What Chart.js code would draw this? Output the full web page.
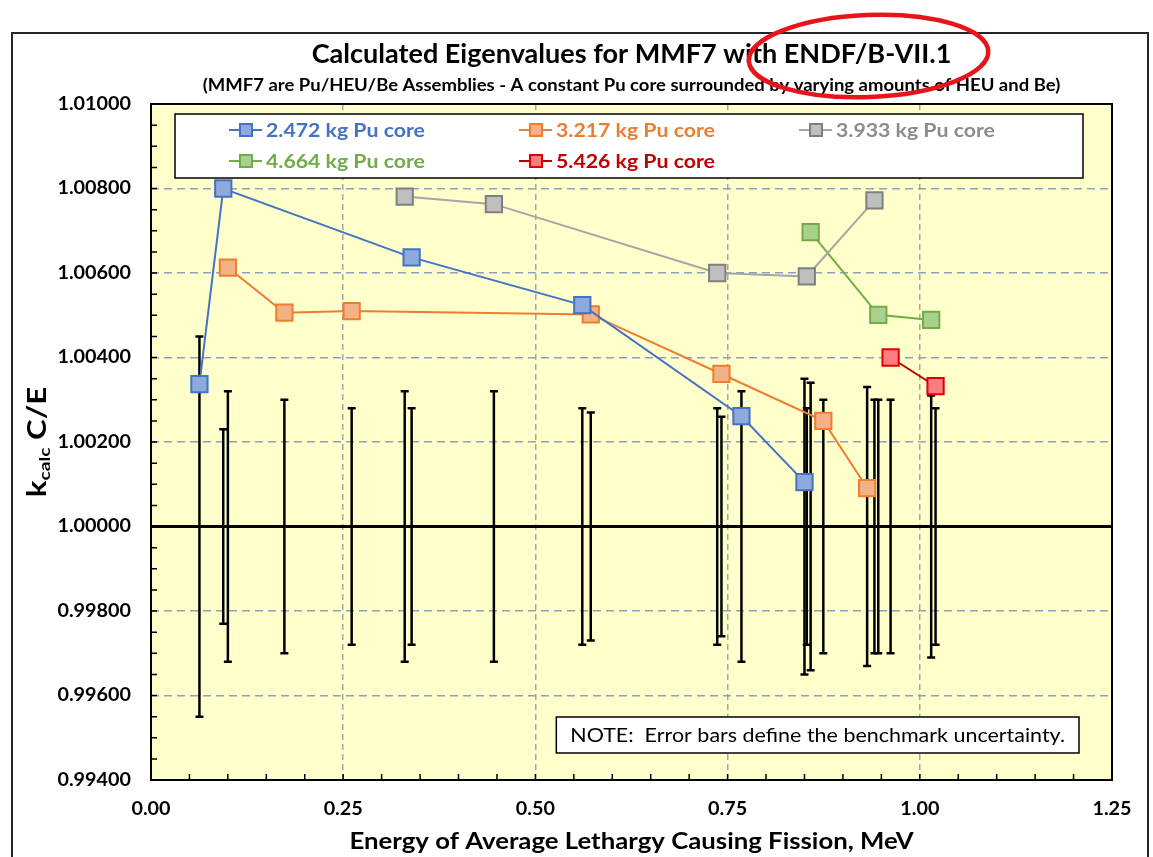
<!DOCTYPE html>
<html>
<head>
<meta charset="utf-8">
<script src="https://cdn.jsdelivr.net/npm/chart.js@4.4.0/dist/chart.umd.min.js"></script>
<style>
  html, body { margin: 0; padding: 0; background: #fff; }
</style>
</head>
<body>
<canvas id="eigenChart" width="1153" height="857"></canvas>
<script>
  /* =========================
     DATA
  ========================= */
  const TITLE = "Calculated Eigenvalues for MMF7 with ENDF/B-VII.1";
  const TITLE_MARK = "ENDF/B-VII.1";
  const SUBTITLE = "(MMF7 are Pu/HEU/Be Assemblies - A constant Pu core surrounded by varying amounts of HEU and Be)";
  const X_TITLE = "Energy of Average Lethargy Causing Fission, MeV";
  const NOTE = "NOTE:  Error bars define the benchmark uncertainty.";

  const seriesLabels = ["2.472 kg Pu core", "3.217 kg Pu core", "3.933 kg Pu core", "4.664 kg Pu core", "5.426 kg Pu core"];

  const energy1 = [0.063, 0.094, 0.339, 0.561, 0.768, 0.850];
  const keff1 = [1.00337, 1.00800, 1.00637, 1.00524, 1.00261, 1.00105];
  const unc1 = [0.0045, 0.0023, 0.0028, 0.0028, 0.0032, 0.0035];

  const energy2 = [0.100, 0.1735, 0.261, 0.572, 0.742, 0.8745, 0.9315];
  const keff2 = [1.00613, 1.00506, 1.00510, 1.00502, 1.00361, 1.00250, 1.00091];
  const unc2 = [0.0032, 0.0030, 0.0028, 0.0027, 0.0026, 0.0030, 0.0033];

  const energy3 = [0.330, 0.446, 0.7365, 0.853, 0.941];
  const keff3 = [1.00781, 1.00763, 1.00600, 1.00592, 1.00772];
  const unc3 = [0.0032, 0.0032, 0.0028, 0.0028, 0.0030];

  const energy4 = [0.858, 0.946, 1.0148];
  const keff4 = [1.00697, 1.00501, 1.00489];
  const unc4 = [0.0034, 0.0030, 0.0031];

  const energy5 = [0.962, 1.0205];
  const keff5 = [1.00400, 1.00332];
  const unc5 = [0.0030, 0.0028];

  const BENCHMARK = 1.0;
  const Y_MIN = 0.994, Y_MAX = 1.010, Y_STEP = 0.002, Y_MINOR = 0.0005;
  const X_MIN = 0, X_MAX = 1.25, X_STEP = 0.25, X_MINOR = 0.05;

  /* =========================
     STYLE
  ========================= */
  const FONT = "Lato, 'Open Sans', sans-serif";
  const STYLES = [
    { line: "#4472C4", fill: "#8EA9DB", edge: "#4472C4", text: "#4472C4" },
    { line: "#ED7D31", fill: "#F4B183", edge: "#ED7D31", text: "#ED7D31" },
    { line: "#A5A5A5", fill: "#BFBFBF", edge: "#7F7F7F", text: "#8C8C8C" },
    { line: "#70AD47", fill: "#A9D18E", edge: "#70AD47", text: "#70AD47" },
    { line: "#C00000", fill: "#FF7C80", edge: "#E00000", text: "#C00000" }
  ];

  const series = [
    [energy1, keff1, unc1],
    [energy2, keff2, unc2],
    [energy3, keff3, unc3],
    [energy4, keff4, unc4],
    [energy5, keff5, unc5]
  ];

  const datasets = series.map(([xs, ys, us], i) => ({
    label: seriesLabels[i],
    data: xs.map((x, j) => ({ x, y: ys[j] })),
    unc: us,
    showLine: true,
    borderColor: STYLES[i].line,
    borderWidth: 2,
    pointStyle: "rect",
    pointRadius: 11.5,
    pointHoverRadius: 11.5,
    pointBackgroundColor: STYLES[i].fill,
    pointBorderColor: STYLES[i].edge,
    pointBorderWidth: 2
  }));

  /* =========================
     HELPERS
  ========================= */
  // text drawn slightly wide, like the stretched original
  function wideText(ctx, text, x, y, font, sx, align = "center") {
    ctx.save();
    ctx.font = font;
    ctx.textAlign = align;
    ctx.textBaseline = "middle";
    ctx.translate(x, y);
    ctx.scale(sx, 1);
    ctx.fillText(text, 0, 0);
    ctx.restore();
  }

  function textWidth(ctx, text, font, sx) {
    ctx.save();
    ctx.font = font;
    const w = ctx.measureText(text).width * sx;
    ctx.restore();
    return w;
  }

  /* =========================
     PLUGINS
  ========================= */
  const decorations = {
    id: "decorations",
    beforeDraw(chart) {
      const { ctx, chartArea: ca } = chart;
      ctx.save();
      ctx.fillStyle = "#FFFFCC";
      ctx.fillRect(ca.left, ca.top, ca.right - ca.left, ca.bottom - ca.top);
      ctx.restore();
    },
    beforeDatasetsDraw(chart) {
      const { ctx, chartArea: ca, scales: { x, y } } = chart;
      ctx.save();
      // benchmark line
      const yb = y.getPixelForValue(BENCHMARK);
      ctx.strokeStyle = "#000";
      ctx.lineWidth = 3;
      ctx.beginPath();
      ctx.moveTo(ca.left, yb);
      ctx.lineTo(ca.right, yb);
      ctx.stroke();

      // error bars: benchmark uncertainty
      ctx.lineWidth = 2.5;
      chart.data.datasets.forEach(ds => {
        ds.unc.forEach((u, i) => {
          const px = x.getPixelForValue(ds.data[i].x);
          const top = y.getPixelForValue(BENCHMARK + u);
          const bot = y.getPixelForValue(BENCHMARK - u);
          ctx.beginPath();
          ctx.moveTo(px, top);
          ctx.lineTo(px, bot);
          ctx.moveTo(px - 4, top);
          ctx.lineTo(px + 4, top);
          ctx.moveTo(px - 4, bot);
          ctx.lineTo(px + 4, bot);
          ctx.stroke();
        });
      });
      ctx.restore();
    },
    afterDraw(chart) {
      const { ctx, chartArea: ca, scales: { x, y } } = chart;
      const cx = (ca.left + ca.right) / 2;
      ctx.save();

      // outer frame
      ctx.strokeStyle = "#262626";
      ctx.lineWidth = 2;
      ctx.strokeRect(12, 33, 1136, 860);

      // plot frame
      ctx.strokeStyle = "#000";
      ctx.lineWidth = 2;
      ctx.strokeRect(ca.left, ca.top, ca.right - ca.left, ca.bottom - ca.top);

      // inner ticks
      ctx.lineWidth = 1.5;
      ctx.beginPath();
      const ny = Math.round((Y_MAX - Y_MIN) / Y_MINOR);
      for (let i = 1; i < ny; i++) {
        const py = y.getPixelForValue(Y_MIN + i * Y_MINOR);
        ctx.moveTo(ca.left, py);
        ctx.lineTo(ca.left + 6, py);
      }
      const nx = Math.round((X_MAX - X_MIN) / X_MINOR);
      for (let i = 1; i < nx; i++) {
        const px = x.getPixelForValue(X_MIN + i * X_MINOR);
        ctx.moveTo(px, ca.bottom);
        ctx.lineTo(px, ca.bottom - 6);
      }
      ctx.stroke();

      // tick labels from the scales
      ctx.fillStyle = "#000";
      const tickFont = `bold 18.5px ${FONT}`;
      y.ticks.forEach(t => {
        wideText(ctx, t.value.toFixed(5), ca.left - 20, y.getPixelForValue(t.value), tickFont, 1.07, "right");
      });
      x.ticks.forEach(t => {
        wideText(ctx, t.value.toFixed(2), x.getPixelForValue(t.value), ca.bottom + 29, tickFont, 1.07);
      });

      // titles
      const titleFont = `bold 26px ${FONT}`, titleSx = 1.04;
      wideText(ctx, TITLE, cx, 55, titleFont, titleSx);
      const fullW = textWidth(ctx, TITLE, titleFont, titleSx);
      const preW = textWidth(ctx, TITLE.slice(0, TITLE.indexOf(TITLE_MARK)), titleFont, titleSx);
      const markW = textWidth(ctx, TITLE_MARK, titleFont, titleSx);
      wideText(ctx, SUBTITLE, cx, 86, `bold 16.5px ${FONT}`, 1.12);
      wideText(ctx, X_TITLE, cx, 842, `bold 23px ${FONT}`, 1.12);

      // y title with subscript
      ctx.save();
      ctx.translate(38, (ca.top + ca.bottom) / 2);
      ctx.rotate(-Math.PI / 2);
      ctx.scale(1.2, 1);
      ctx.textAlign = "left";
      ctx.textBaseline = "alphabetic";
      const big = `bold 26px ${FONT}`, small = `bold 16px ${FONT}`;
      ctx.font = big; const wk = ctx.measureText("k").width;
      ctx.font = small; const wc = ctx.measureText("calc").width;
      ctx.font = big; const we = ctx.measureText(" C/E").width;
      let tx = -(wk + wc + we) / 2;
      ctx.font = big; ctx.fillText("k", tx, 8); tx += wk;
      ctx.font = small; ctx.fillText("calc", tx, 12); tx += wc;
      ctx.font = big; ctx.fillText(" C/E", tx, 8);
      ctx.restore();

      // legend
      const box = { x: ca.left + 24, y: ca.top + 10, w: ca.right - ca.left - 53, h: 64 };
      ctx.fillStyle = "#fff";
      ctx.fillRect(box.x, box.y, box.w, box.h);
      ctx.strokeStyle = "#000";
      ctx.lineWidth = 1.5;
      ctx.strokeRect(box.x, box.y, box.w, box.h);
      const colX = [box.x + 54, box.x + 344, box.x + 624];
      const rowY = [box.y + 16, box.y + 47];
      chart.data.datasets.forEach((ds, i) => {
        const lx = colX[i % 3], ly = rowY[Math.floor(i / 3)];
        const st = STYLES[i];
        ctx.strokeStyle = st.line;
        ctx.lineWidth = 2;
        ctx.beginPath();
        ctx.moveTo(lx, ly);
        ctx.lineTo(lx + 33, ly);
        ctx.stroke();
        ctx.fillStyle = st.fill;
        ctx.strokeStyle = st.edge;
        ctx.fillRect(lx + 11, ly - 6, 12, 12);
        ctx.strokeRect(lx + 11, ly - 6, 12, 12);
        ctx.fillStyle = st.text;
        wideText(ctx, ds.label, lx + 37, ly + 1, `bold 18.5px ${FONT}`, 1.15, "left");
      });

      // note box
      const noteFont = `18.5px ${FONT}`, noteSx = 1.16;
      const nw = textWidth(ctx, NOTE, noteFont, noteSx) + 28;
      const nb = { x: ca.right - 33 - nw, y: ca.bottom - 63, w: nw, h: 36 };
      ctx.fillStyle = "#fff";
      ctx.fillRect(nb.x, nb.y, nb.w, nb.h);
      ctx.strokeStyle = "#000";
      ctx.lineWidth = 1.5;
      ctx.strokeRect(nb.x, nb.y, nb.w, nb.h);
      ctx.fillStyle = "#000";
      wideText(ctx, NOTE, nb.x + 14, nb.y + nb.h / 2 + 1, noteFont, noteSx, "left");

      // red highlight around the evaluation name
      const mx = cx - fullW / 2 + preW + markW / 2 + 1;
      ctx.strokeStyle = "#E8141B";
      ctx.lineWidth = 4.5;
      ctx.beginPath();
      ctx.ellipse(mx, 56, markW / 2 + 36, 41, -0.04, 0, Math.PI * 2);
      ctx.stroke();

      ctx.restore();
    }
  };

  /* =========================
     CHART
  ========================= */
  const ctx = document.getElementById("eigenChart").getContext("2d");

  const chart = new Chart(ctx, {
    type: "scatter",
    data: { datasets },
    plugins: [decorations],
    options: {
      responsive: false,
      animation: false,
      layout: { padding: { top: 104, right: 41, left: 0, bottom: 0 } },
      plugins: {
        legend: { display: false },
        title: { display: false },
        tooltip: { enabled: false }
      },
      scales: {
        x: {
          type: "linear",
          min: X_MIN,
          max: X_MAX,
          afterFit: s => { s.height = 77; },
          ticks: { stepSize: X_STEP, display: false },
          grid: {
            drawTicks: false,
            lineWidth: 1.5,
            color: c => (c.tick.value <= X_MIN || c.tick.value >= X_MAX) ? "rgba(0,0,0,0)" : "#A6A6A6"
          },
          border: { display: false, dash: [6, 4] }
        },
        y: {
          min: Y_MIN,
          max: Y_MAX,
          afterFit: s => { s.width = 151; },
          ticks: { stepSize: Y_STEP, display: false },
          grid: {
            drawTicks: false,
            lineWidth: 1.5,
            color: c => {
              const v = c.tick.value;
              if (v <= Y_MIN + 1e-9 || v >= Y_MAX - 1e-9 || Math.abs(v - BENCHMARK) < 1e-9) return "rgba(0,0,0,0)";
              return "#8EA0BE";
            }
          },
          border: { display: false, dash: [8, 5] }
        }
      }
    }
  });
</script>
</body>
</html>
